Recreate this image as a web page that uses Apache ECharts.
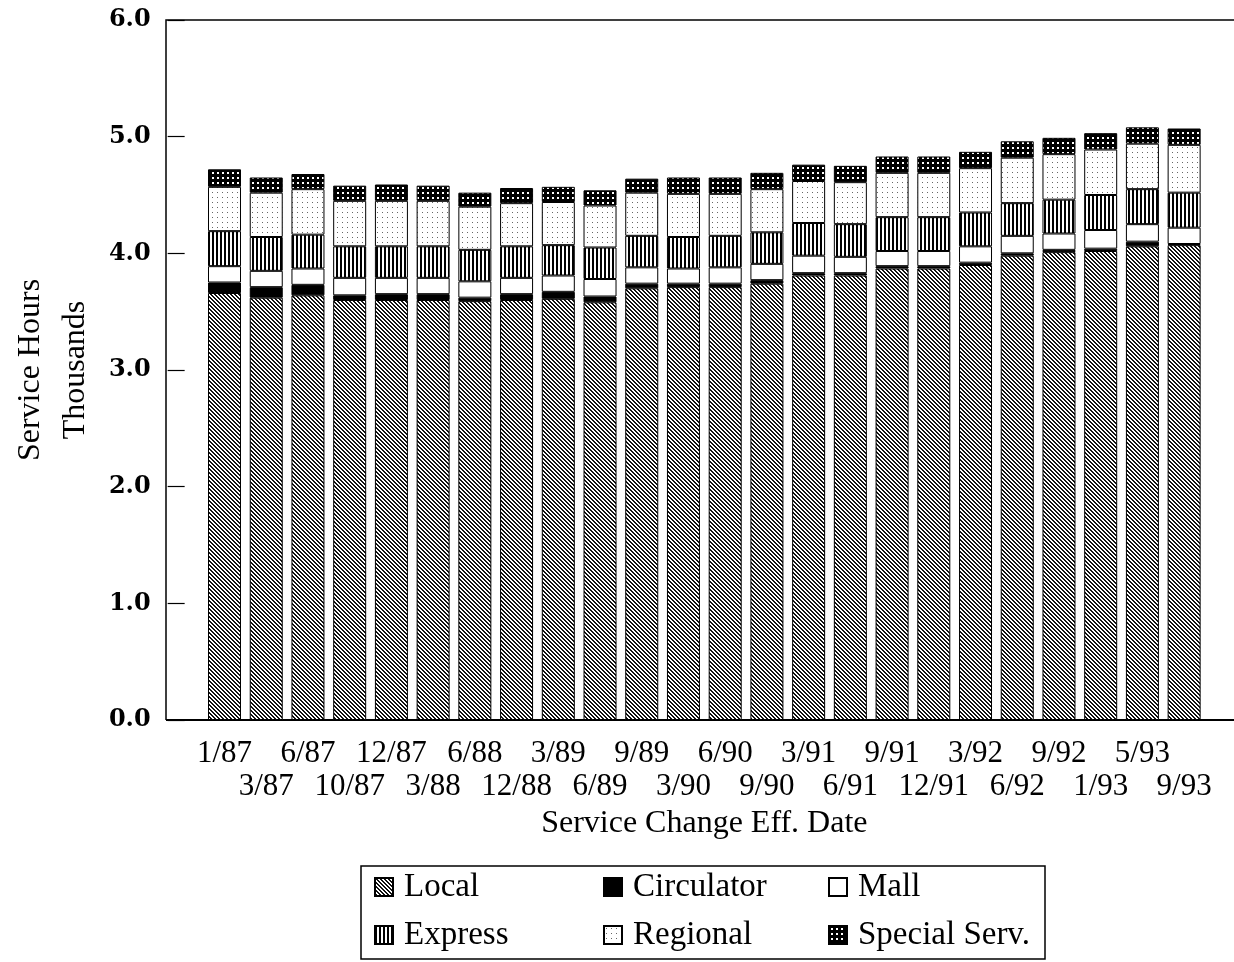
<!DOCTYPE html>
<html>
<head>
<meta charset="utf-8">
<script src="https://cdn.jsdelivr.net/npm/echarts@6/dist/echarts.min.js"></script>
<style>
  html, body { margin: 0; padding: 0; background: #fff; }
  #chart { width: 1234px; height: 962px; }
</style>
</head>
<body>
<div id="chart"></div>
<script>
// ---- data (thousands of service hours) ----
const categories = ['1/87','3/87','6/87','10/87','12/87','3/88','6/88','12/88','3/89','6/89','9/89','3/90',
                    '6/90','9/90','3/91','6/91','9/91','12/91','3/92','6/92','9/92','1/93','5/93','9/93'];
const local      = [3.66,3.62,3.64,3.60,3.60,3.60,3.59,3.60,3.61,3.58,3.70,3.71,3.71,3.74,3.81,3.81,3.87,3.87,3.90,3.98,4.01,4.02,4.06,4.07];
const circulator = [0.09,0.09,0.09,0.04,0.05,0.05,0.03,0.05,0.06,0.05,0.04,0.03,0.03,0.03,0.02,0.02,0.02,0.02,0.02,0.02,0.02,0.02,0.04,0.01];
const mall       = [0.14,0.14,0.14,0.15,0.14,0.14,0.14,0.14,0.14,0.15,0.14,0.13,0.14,0.14,0.15,0.14,0.13,0.13,0.14,0.15,0.14,0.16,0.15,0.14];
const express    = [0.30,0.29,0.29,0.27,0.27,0.27,0.27,0.27,0.26,0.27,0.27,0.27,0.27,0.27,0.28,0.28,0.29,0.29,0.29,0.28,0.29,0.30,0.30,0.30];
const regional   = [0.38,0.38,0.39,0.39,0.39,0.39,0.37,0.37,0.37,0.36,0.37,0.37,0.36,0.37,0.36,0.36,0.38,0.38,0.38,0.39,0.39,0.39,0.39,0.41];
const special    = [0.15,0.13,0.13,0.13,0.14,0.13,0.12,0.13,0.13,0.13,0.12,0.14,0.14,0.14,0.14,0.14,0.14,0.14,0.14,0.14,0.14,0.14,0.14,0.14];
const seriesNames = ['Local','Circulator','Mall','Express','Regional','Special Serv.'];
const yTicks = [0,1,2,3,4,5,6];

// ---- fill patterns ----
function tile(w, h, draw) {
  const c = document.createElement('canvas');
  c.width = w; c.height = h;
  const g = c.getContext('2d');
  draw(g);
  return { image: c, repeat: 'repeat' };
}
const patLocal = tile(4, 4, g => {
  g.fillStyle = '#fff'; g.fillRect(0,0,4,4);
  g.fillStyle = '#111';
  for (let i = 0; i < 4; i++) { g.fillRect(i, i, 1, 1); g.fillRect((i + 1) % 4, i, 1, 1); }
});
const patExpress = tile(4, 4, g => {
  g.fillStyle = '#fff'; g.fillRect(0,0,4,4);
  g.fillStyle = '#000'; g.fillRect(0,0,2,4);
});
const patRegional = tile(5, 5, g => {
  g.fillStyle = '#fff'; g.fillRect(0,0,5,5);
  g.fillStyle = '#666'; g.fillRect(2,2,1,1);
});
const patSpecial = tile(5, 5, g => {
  g.fillStyle = '#000'; g.fillRect(0,0,5,5);
  g.fillStyle = '#fff'; g.fillRect(2,2,2,2);
});
const fills = [patLocal, '#000', '#fff', patExpress, patRegional, patSpecial];
const values = [local, circulator, mall, express, regional, special];

const serif = 'Liberation Serif, Times New Roman, serif';

const chart = echarts.init(document.getElementById('chart'), null, { renderer: 'canvas' });

const series = seriesNames.map((name, k) => ({
  name,
  type: 'bar',
  stack: 'total',
  barWidth: 33,
  data: values[k],
  itemStyle: { color: fills[k], borderColor: '#000', borderWidth: 1 },
  emphasis: { disabled: true }
}));

function legendCol(names, left) {
  return {
    data: names,
    orient: 'vertical',
    left, top: 870,
    padding: 0,
    itemWidth: 18, itemHeight: 18,
    itemGap: 14,
    icon: 'rect',
    selectedMode: false,
    textStyle: { fontFamily: serif, fontSize: 33, lineHeight: 34, color: '#000', padding: [0,0,0,6] }
  };
}

chart.setOption({
  animation: false,
  backgroundColor: '#fff',
  grid: { left: 202, right: 29, top: 20, bottom: 242, containLabel: false },
  xAxis: {
    type: 'category',
    data: categories,
    axisLine: { show: false },
    axisTick: { show: false },
    axisLabel: {
      interval: 0,
      margin: 17,
      fontFamily: serif, fontSize: 31, lineHeight: 33, color: '#000',
      formatter: (v, i) => (i % 2 ? '\n' + v : v)
    },
    name: 'Service Change Eff. Date',
    nameLocation: 'middle',
    nameGap: 88,
    nameTextStyle: { fontFamily: serif, fontSize: 32, color: '#000' }
  },
  yAxis: {
    type: 'value',
    min: yTicks[0], max: yTicks[yTicks.length - 1], interval: 1,
    offset: 36,
    axisLine: { show: false },
    axisTick: { show: true, inside: true, length: 17, lineStyle: { color: '#000', width: 1.2 } },
    splitLine: { show: false },
    axisLabel: {
      margin: 17,
      fontFamily: 'DejaVu Serif, serif', fontSize: 24, fontWeight: 'bold', color: '#000',
      formatter: v => v.toFixed(1)
    },
    name: 'Service Hours\nThousands',
    nameLocation: 'middle',
    nameGap: 69,
    nameTextStyle: { fontFamily: serif, fontSize: 32, lineHeight: 45, color: '#000' }
  },
  legend: [
    legendCol(['Local', 'Express'], 374),
    legendCol(['Circulator', 'Regional'], 603),
    legendCol(['Mall', 'Special Serv.'], 828)
  ],
  graphic: [
    { type: 'polyline', silent: true, shape: { points: [[1240, 20], [166, 20], [166, 720]] },
      style: { stroke: '#000', lineWidth: 1.5, fill: null } },
    { type: 'line', silent: true, shape: { x1: 166, y1: 720, x2: 1240, y2: 720 },
      style: { stroke: '#000', lineWidth: 2 } },
    { type: 'rect', silent: true, shape: { x: 361, y: 866, width: 684, height: 93 },
      style: { fill: null, stroke: '#000', lineWidth: 1.5 } }
  ],
  series
});
</script>
</body>
</html>
